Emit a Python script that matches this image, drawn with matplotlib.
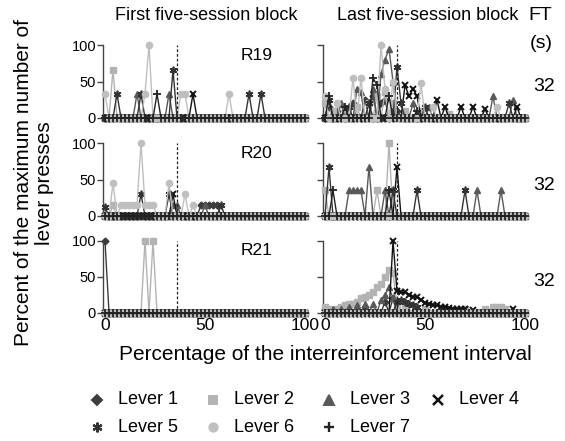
import numpy as np
import matplotlib
matplotlib.use("Agg")
import matplotlib.pyplot as plt
from matplotlib.lines import Line2D

plt.rcParams['font.family'] = ['Liberation Sans', 'DejaVu Sans']

# ---- data: percent of max lever presses per 2% bin of the interreinforcement interval
BINS = np.arange(0, 101, 2)
LEVERS = ["Lever 1", "Lever 2", "Lever 3", "Lever 4", "Lever 5", "Lever 6", "Lever 7"]
RATS = ["R19", "R20", "R21"]
FT_VALUES = ["32", "32", "32"]
COLUMN_TITLES = ["First five-session block", "Last five-session block"]
X_TICKS = [0, 50, 100]
Y_TICKS = [0, 50, 100]
FT_MARK = 36  # dashed line (% of interval)

# sparse non-zero values: lever index -> {bin: value}
R19_FIRST = {
    1: {4: 66},
    2: {16: 33, 32: 33},
    3: {44: 33},
    4: {6: 33, 18: 33, 34: 66, 72: 33, 78: 33},
    5: {0: 33, 20: 33, 22: 100, 38: 33, 40: 33, 62: 33},
    6: {26: 33},
}
R19_LAST = {
    0: {2: 15, 6: 10, 14: 20, 20: 25, 24: 30, 28: 20, 30: 25, 34: 10, 36: 10},
    1: {0: 20, 4: 10, 10: 10, 16: 15, 22: 20, 26: 30, 30: 35, 34: 20, 40: 10, 48: 10, 62: 5},
    2: {8: 20, 16: 40, 18: 35, 24: 40, 28: 60, 30: 80, 32: 95, 34: 50, 44: 20, 52: 15, 84: 30, 94: 25},
    3: {40: 45, 42: 30, 44: 40, 46: 30, 56: 25, 60: 15, 68: 15, 74: 15, 80: 12, 96: 15},
    4: {2: 25, 12: 15, 22: 20, 36: 70, 38: 20, 50: 15, 92: 20},
    5: {0: 30, 6: 20, 14: 55, 18: 55, 28: 100, 30: 40, 34: 50, 48: 48, 54: 15, 86: 15},
    6: {2: 30, 10: 15, 24: 55, 26: 45, 32: 30, 46: 10},
}
R20_FIRST = {
    0: {48: 15, 50: 15, 52: 15, 54: 15, 56: 15},
    1: {4: 15},
    2: {34: 15, 36: 15, 50: 15},
    3: {34: 30},
    4: {0: 12, 18: 30, 32: 30, 58: 15},
    5: {4: 45, 8: 15, 10: 15, 12: 15, 14: 15, 16: 15, 18: 100, 20: 15, 22: 15, 24: 15,
        32: 45, 40: 30, 44: 15},
}
R20_LAST = {
    1: {0: 35, 26: 35, 32: 100},
    2: {12: 35, 14: 35, 16: 35, 18: 35, 22: 67, 30: 35, 76: 35, 88: 35},
    3: {36: 67},
    4: {2: 67, 34: 35, 46: 35, 70: 35},
    6: {4: 35, 32: 35},
}
R21_FIRST = {
    0: {0: 100},
    1: {20: 100, 24: 100},
}
R21_LAST = {
    0: {0: 5, 10: 5, 20: 8, 30: 15, 34: 20},
    1: {0: 8, 2: 5, 6: 5, 8: 8, 10: 10, 12: 12, 14: 12, 16: 15, 18: 20, 20: 22, 22: 25,
        24: 28, 26: 35, 28: 40, 30: 50, 32: 60, 34: 55, 36: 10, 40: 8, 50: 5, 60: 5,
        70: 5, 80: 5, 84: 8, 86: 8, 88: 8, 90: 5},
    2: {4: 5, 8: 5, 12: 8, 16: 10, 20: 12, 24: 12, 28: 18, 30: 25, 32: 35, 34: 20},
    3: {34: 100, 36: 30, 38: 28, 40: 28, 42: 25, 44: 22, 46: 22, 48: 18, 50: 14, 52: 12,
        54: 10, 56: 10, 58: 8, 60: 8, 62: 6, 64: 5, 66: 5, 68: 5, 70: 5, 74: 4, 94: 5},
    4: {36: 15, 38: 18, 40: 15, 42: 12, 44: 10, 46: 8},
}
PANELS = [[R19_FIRST, R19_LAST], [R20_FIRST, R20_LAST], [R21_FIRST, R21_LAST]]

# ---- styles
COLORS = ['#3c3c3c', '#b3b3b3', '#595959', '#111111', '#333333', '#bfbfbf', '#222222']
MARKERS = ['D', 's', '^', 'x', (6, 2, 0), 'o', '+']
MSIZES = [3.5, 4.5, 5, 5, 5.5, 4.5, 6]
MEW = [1, 1, 1, 1.4, 1.2, 1, 1.3]


def series(sparse):
    y = np.zeros(len(BINS))
    for b, v in sparse.items():
        y[np.where(BINS == b)[0][0]] = v
    return y


W, H = 565, 441
fig = plt.figure(figsize=(W / 100, H / 100), dpi=100)

col_left = [103, 323]
ax_w = 204
rows_px = [(42.1, 120.9), (140.1, 218.9), (238.1, 315.4)]

for r in range(3):
    top, bot = rows_px[r]
    for c in range(2):
        ax = fig.add_axes([col_left[c] / W, (H - bot) / H, ax_w / W, (bot - top) / H])
        ax.set_xlim(-1, 101)
        ax.set_ylim(-4, 104)
        data = PANELS[r][c]
        for li in range(7):
            y = series(data.get(li, {}))
            ax.plot(BINS, y, color=COLORS[li], marker=MARKERS[li], ms=MSIZES[li],
                    mew=MEW[li], lw=1.0, clip_on=False, zorder=2 + li)
        ax.plot([FT_MARK, FT_MARK], [0, 100], color='#222222', lw=0.9,
                ls=(0, (2.2, 1.6)), zorder=20)
        for s in ['top', 'right', 'bottom']:
            ax.spines[s].set_visible(False)
        ax.spines['left'].set_bounds(0, 100)
        ax.spines['left'].set_color('#444444')
        ax.spines['left'].set_linewidth(1.0)
        ax.set_yticks(Y_TICKS)
        ax.tick_params(axis='y', length=4, width=1, color='#444444', labelsize=10.5, pad=1)
        if c == 1:
            ax.set_yticklabels([])
        ax.set_xticks(X_TICKS)
        ax.tick_params(axis='x', length=0, labelsize=12.5, pad=2)
        if r < 2:
            ax.set_xticklabels([])
        if c == 0:
            ax.text(76, 86, RATS[r], fontsize=12.5, ha='center', va='center')
        ax.patch.set_alpha(0)
    fig.text(533 / W, 1 - [86, 185, 281][r] / H, FT_VALUES[r], fontsize=14,
             ha='left', va='center')

fig.text(206 / W, 1 - 16 / H, COLUMN_TITLES[0], fontsize=13, ha='center', va='center')
fig.text(428 / W, 1 - 16 / H, COLUMN_TITLES[1], fontsize=13, ha='center', va='center')
fig.text(528 / W, 1 - 16 / H, "FT", fontsize=14, ha='left', va='center')
fig.text(530 / W, 1 - 43 / H, "(s)", fontsize=14, ha='left', va='center')
fig.text(34 / W, 1 - 183 / H, "Percent of the maximum number of\nlever presses",
         fontsize=15, rotation=90, ha='center', va='center', multialignment='center',
         linespacing=1.1)
fig.text(325 / W, 1 - 355 / H, "Percentage of the interreinforcement interval",
         fontsize=15, ha='center', va='center')

# legend (manual placement)
leg_pos = [(97, 400), (213, 400), (329, 400), (438, 400),
           (97, 427), (213, 427), (329, 427)]
for li, (px, py) in enumerate(leg_pos):
    fig.add_artist(Line2D([px / W], [1 - py / H], transform=fig.transFigure,
                          color=COLORS[li], marker=MARKERS[li], ms=MSIZES[li] + 1.5,
                          mew=MEW[li] + 0.4, ls='none'))
    fig.text((px + 21) / W, 1 - py / H, LEVERS[li], fontsize=13, ha='left', va='center')

fig.savefig("out.png", dpi=100)
